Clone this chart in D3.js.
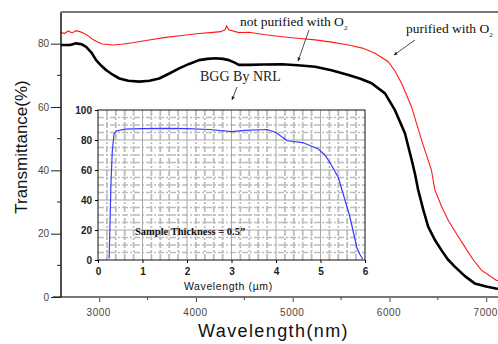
<!DOCTYPE html>
<html>
<head>
<meta charset="utf-8">
<script src="https://cdnjs.cloudflare.com/ajax/libs/d3/7.8.5/d3.min.js"></script>
<style>
  body { margin: 0; background: #fff; }
  svg { display: block; }
</style>
</head>
<body>
<div id="chart"></div>
<script>
// purified with O2 (red)
var redWl = [2600, 2640, 2680, 2720, 2760, 2800, 2840, 2880, 2930, 2980, 3030, 3070, 3140, 3250, 3345, 3500, 3690, 3850, 4030, 4150, 4255, 4300, 4317, 4340, 4443, 4546, 4700, 4889, 5050, 5233, 5400, 5576, 5720, 5851, 5988, 6060, 6125, 6228, 6331, 6434, 6469, 6540, 6606, 6700, 6778, 6860, 6950, 7100, 7200];
var redT  = [83.6, 83.2, 84.0, 83.4, 84.1, 83.8, 83.3, 82.6, 81.4, 80.6, 79.9, 79.8, 79.6, 79.9, 80.3, 81.1, 82.0, 82.6, 83.2, 83.5, 83.8, 84.4, 85.6, 84.4, 83.5, 83.6, 82.9, 82.2, 81.7, 81.2, 80.5, 79.6, 78.6, 77.0, 74.3, 71.2, 67.5, 60.1, 49.6, 40.1, 33.8, 28.5, 24.3, 19.6, 15.9, 12.0, 8.5, 5.4, 4.0];

// not purified with O2 (black)
var blackWl = [2600, 2700, 2761, 2820, 2865, 2920, 2968, 3020, 3070, 3140, 3208, 3300, 3414, 3520, 3620, 3720, 3826, 3930, 4031, 4120, 4203, 4280, 4340, 4400, 4443, 4546, 4700, 4889, 5050, 5233, 5400, 5576, 5700, 5816, 5954, 6057, 6160, 6228, 6263, 6297, 6350, 6400, 6470, 6537, 6600, 6675, 6780, 6881, 7000, 7100, 7200];
var blackT  = [79.6, 79.6, 80.1, 79.8, 79.0, 77.2, 74.8, 73.1, 71.7, 70.2, 69.0, 68.3, 68.0, 68.3, 69.0, 70.5, 72.2, 73.6, 74.8, 75.2, 75.4, 75.2, 74.8, 74.0, 73.3, 73.3, 73.4, 73.5, 73.2, 72.7, 71.6, 70.1, 68.9, 67.5, 64.3, 59.0, 51.7, 43.5, 39.0, 33.8, 27.5, 22.2, 18.0, 14.8, 12.0, 9.6, 6.6, 4.3, 3.3, 2.7, 2.3];

// inset: BGG by NRL
var insetUm = [0.25, 0.27, 0.29, 0.32, 0.36, 0.42, 0.6, 1.0, 1.5, 2.0, 2.5, 3.0, 3.3, 3.8, 4.0, 4.25, 4.6, 4.95, 5.1, 5.25, 5.4, 5.55, 5.65, 5.75, 5.82, 5.88, 5.95];
var insetT  = [1, 25, 50, 72, 84, 86, 87.3, 87.6, 87.8, 87.6, 87.0, 85.6, 86.4, 87.0, 85.0, 79.5, 78.3, 74.0, 70.0, 63.0, 55.0, 40.0, 30.0, 17.0, 8.0, 4.0, 0.5];

var mainXTicks = [3000, 4000, 5000, 6000, 7000];
var mainYTicks = [0, 20, 40, 60, 80];
var insetXTicks = [0, 1, 2, 3, 4, 5, 6];
var insetYTicks = [0, 20, 40, 60, 80, 100];

var W = 498, H = 344;
var svg = d3.select("#chart").append("svg")
    .attr("width", W).attr("height", H);

var m = {left: 61, top: 12, bottom: 297};

var x = d3.scaleLinear().domain([2600, 7200]).range([60.5, 60.5 + 4600 * 0.09675]);
var y = d3.scaleLinear().domain([0, 90]).range([m.bottom, m.top]);

svg.append("clipPath").attr("id", "clip")
    .append("rect").attr("x", m.left).attr("y", m.top)
    .attr("width", W - m.left).attr("height", m.bottom - m.top);

var plot = svg.append("g").attr("clip-path", "url(#clip)");

var line = d3.line()
    .x(function(d) { return x(d[0]); })
    .y(function(d) { return y(d[1]); });

plot.append("path")
    .datum(d3.zip(redWl, redT))
    .attr("fill", "none").attr("stroke", "#ff1a1a").attr("stroke-width", 1.1)
    .attr("d", line);

plot.append("path")
    .datum(d3.zip(blackWl, blackT))
    .attr("fill", "none").attr("stroke", "#000").attr("stroke-width", 2.6)
    .attr("stroke-linejoin", "round")
    .attr("d", line);

// axes
var xAxis = d3.axisBottom(x).tickValues(mainXTicks).tickSize(5).tickFormat(d3.format("d"));
var gx = svg.append("g").attr("transform", "translate(0," + m.bottom + ")").call(xAxis);
gx.select(".domain").remove();
gx.append("line").attr("x1", m.left - 8).attr("x2", W).attr("stroke", "#777").attr("stroke-width", 2);
gx.selectAll(".tick line").attr("stroke", "#444");
gx.selectAll(".tick text").attr("fill", "#4d4536").attr("font-family", "Arial, Liberation Sans, sans-serif")
    .attr("font-size", 10).attr("letter-spacing", 0.5).attr("dx", -1).attr("dy", "1.1em");
gx.selectAll(".minor").data([3500, 4500, 5500, 6500]).enter().append("line")
    .attr("x1", function(d) { return x(d); }).attr("x2", function(d) { return x(d); })
    .attr("y1", 0).attr("y2", 3).attr("stroke", "#444");

var yAxis = d3.axisLeft(y).tickValues(mainYTicks).tickSize(10);
var gy = svg.append("g").attr("transform", "translate(" + m.left + ",0)").call(yAxis);
gy.select(".domain").remove();
gy.append("line").attr("y1", m.top).attr("y2", m.bottom).attr("stroke", "#111").attr("stroke-width", 1.5);
gy.selectAll(".tick line").attr("stroke", "#222");
gy.selectAll(".tick text").attr("fill", "#4d4536").attr("font-family", "Arial, Liberation Sans, sans-serif")
    .attr("font-size", 10).attr("x", -12);
gy.selectAll(".minor").data([10, 30, 50, 70]).enter().append("line")
    .attr("y1", function(d) { return y(d); }).attr("y2", function(d) { return y(d); })
    .attr("x1", 0).attr("x2", -4).attr("stroke", "#222");

// top border
svg.append("line").attr("x1", m.left).attr("x2", W).attr("y1", m.top).attr("y2", m.top)
    .attr("stroke", "#777").attr("stroke-width", 2);

// axis titles
svg.append("text").attr("x", 198).attr("y", 337)
    .attr("font-family", "Arial, Liberation Sans, sans-serif").attr("font-size", 18)
    .attr("letter-spacing", 1.4).attr("fill", "#111").text("Wavelength(nm)");
svg.append("text").attr("transform", "translate(27,147) rotate(-90)")
    .attr("text-anchor", "middle")
    .attr("font-family", "Arial, Liberation Sans, sans-serif").attr("font-size", 17)
    .attr("fill", "#111").text("Transmittance(%)");

// annotations
var serif = "Liberation Serif, Times New Roman, serif";
var t1 = svg.append("text").attr("x", 240).attr("y", 26)
    .attr("font-family", serif).attr("font-size", 13.5).attr("fill", "#111");
t1.append("tspan").text("not purified with O");
t1.append("tspan").attr("font-size", 7).attr("dy", 4).text("2");

var t2 = svg.append("text").attr("x", 406).attr("y", 33)
    .attr("font-family", serif).attr("font-size", 13.5).attr("fill", "#111");
t2.append("tspan").text("purified with O");
t2.append("tspan").attr("font-size", 7).attr("dy", 4).text("2");

svg.append("text").attr("x", 200).attr("y", 81)
    .attr("font-family", serif).attr("font-size", 14).attr("fill", "#1a1a2a").text("BGG By NRL");

svg.append("defs").append("marker").attr("id", "arr")
    .attr("viewBox", "0 0 10 10").attr("refX", 9).attr("refY", 5)
    .attr("markerWidth", 5).attr("markerHeight", 5).attr("orient", "auto")
    .append("path").attr("d", "M0,1 L10,5 L0,9 Z").attr("fill", "#222");

function arrow(x1, y1, x2, y2) {
  svg.append("line").attr("x1", x1).attr("y1", y1).attr("x2", x2).attr("y2", y2)
      .attr("stroke", "#222").attr("stroke-width", 0.8).attr("marker-end", "url(#arr)");
}
arrow(309, 30, 298, 61);
arrow(415, 40, 394, 55);
arrow(237, 87, 232, 100);

// inset
var ix = d3.scaleLinear().domain([0, 6]).range([98, 365]);
var iy = d3.scaleLinear().domain([0, 100]).range([260, 110]);
var inset = svg.append("g");

inset.append("rect").attr("x", 98).attr("y", 110).attr("width", 267).attr("height", 150).attr("fill", "#fff");

var minorX = d3.range(0.2, 6, 0.2).filter(function(d) { return Math.abs(d - Math.round(d)) > 0.01; });
var minorY = d3.range(5, 100, 5).filter(function(d) { return d % 20 !== 0; });

inset.selectAll(".mgx").data(minorX).enter().append("line")
    .attr("x1", function(d) { return ix(d); }).attr("x2", function(d) { return ix(d); })
    .attr("y1", iy(100)).attr("y2", iy(0))
    .attr("stroke", "#bcbcbc").attr("stroke-width", 1.8).attr("stroke-dasharray", "6,2,2,2");
inset.selectAll(".mgy").data(minorY).enter().append("line")
    .attr("y1", function(d) { return iy(d); }).attr("y2", function(d) { return iy(d); })
    .attr("x1", ix(0)).attr("x2", ix(6))
    .attr("stroke", "#bcbcbc").attr("stroke-width", 1.6).attr("stroke-dasharray", "6,2,2,2");
inset.selectAll(".gx").data([1, 2, 3, 4, 5]).enter().append("line")
    .attr("x1", function(d) { return ix(d); }).attr("x2", function(d) { return ix(d); })
    .attr("y1", iy(100)).attr("y2", iy(0)).attr("stroke", "#a8a8a8").attr("stroke-width", 1);
inset.selectAll(".gy").data([20, 40, 60, 80]).enter().append("line")
    .attr("y1", function(d) { return iy(d); }).attr("y2", function(d) { return iy(d); })
    .attr("x1", ix(0)).attr("x2", ix(6)).attr("stroke", "#a8a8a8").attr("stroke-width", 1);

inset.append("rect").attr("x", 98).attr("y", 110).attr("width", 267).attr("height", 150)
    .attr("fill", "none").attr("stroke", "#111").attr("stroke-width", 1);

var iline = d3.line()
    .x(function(d) { return ix(d[0]); })
    .y(function(d) { return iy(d[1]); });
inset.append("path").datum(d3.zip(insetUm, insetT))
    .attr("fill", "none").attr("stroke", "#3a3aff").attr("stroke-width", 1.2)
    .attr("d", iline);

var igx = inset.append("g").attr("transform", "translate(0,260)")
    .call(d3.axisBottom(ix).tickValues(insetXTicks).tickSize(3).tickFormat(d3.format("d")));
igx.select(".domain").remove();
igx.selectAll(".tick text").attr("font-family", "Arial, Liberation Sans, sans-serif")
    .attr("font-size", 10).attr("font-weight", "bold").attr("fill", "#222").attr("dy", "0.9em");

var igy = inset.append("g").attr("transform", "translate(98,0)")
    .call(d3.axisLeft(iy).tickValues(insetYTicks).tickSize(3));
igy.select(".domain").remove();
igy.selectAll(".tick text").attr("font-family", "Arial, Liberation Sans, sans-serif")
    .attr("font-size", 10).attr("font-weight", "bold").attr("fill", "#222");

inset.append("text").attr("x", 184).attr("y", 290)
    .attr("font-family", "Arial, Liberation Sans, sans-serif").attr("font-size", 10.5)
    .attr("letter-spacing", 0.6).attr("fill", "#111").text("Wavelength (\u00b5m)");

inset.append("text").attr("x", 135).attr("y", 235)
    .attr("font-family", serif).attr("font-size", 10.5).attr("font-weight", "bold")
    .attr("fill", "#111").text("Sample Thickness = 0.5\u201d");
</script>
</body>
</html>
